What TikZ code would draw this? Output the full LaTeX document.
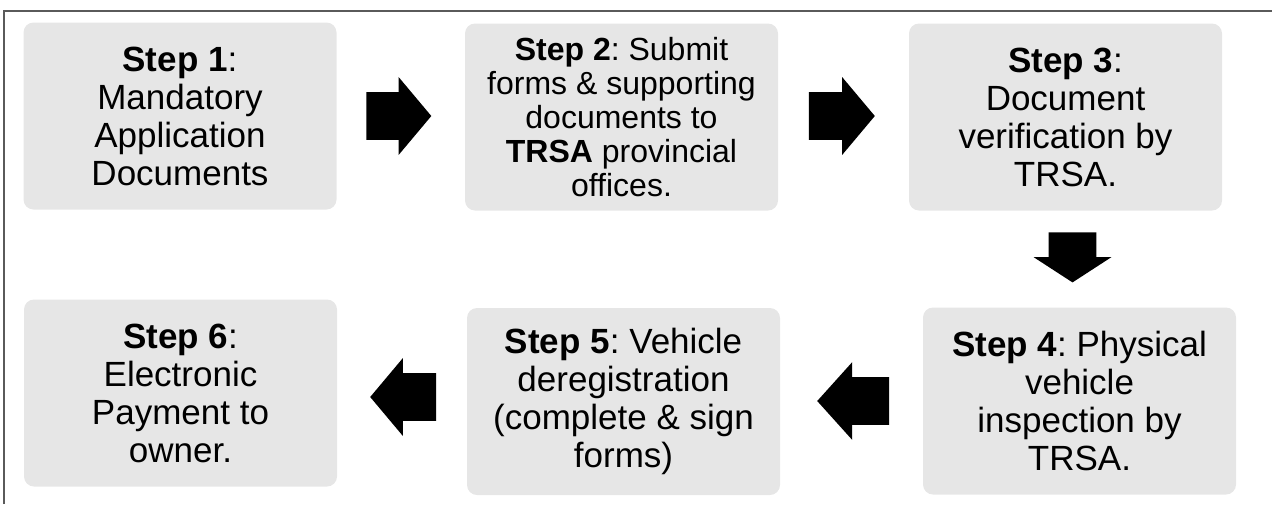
\documentclass[tikz,border=0pt]{standalone}
\usepackage{fontspec}
\setmainfont{Liberation Sans}
\usepackage{tikz}
\usetikzlibrary{shapes.arrows,calc}
\definecolor{boxgray}{RGB}{230,230,230}
\definecolor{framegray}{RGB}{90,90,90}
\frenchspacing
\tikzset{
  stepbox/.style={rectangle, rounded corners=5pt, fill=boxgray, minimum width=156.5pt, minimum height=93.5pt, inner sep=0pt, align=center, font=\fontsize{17.5}{19}\selectfont},
  flowarrow/.style={single arrow, fill=black, inner sep=0pt, text height=11.75pt, text depth=11.75pt, single arrow head extend=7.5pt, anchor=tail}
}

\begin{document}
\begin{tikzpicture}[x=0.5pt, y=-0.5pt]
        \useasboundingbox (0,0) rectangle (1272,504);
        \draw[framegray, line width=0.75pt] (4,504) -- (4,11) -- (1272,11);

        \node[stepbox] (S1) at (180,116) {\textbf{Step 1}:\\Mandatory\\Application\\Documents};
        \node[stepbox, font=\fontsize{16}{17}\selectfont] (S2) at (621.5,117) {\textbf{Step 2}: Submit\\forms \& supporting\\documents to\\\textbf{TRSA} provincial\\offices.};
        \node[stepbox] (S3) at (1065.5,117) {\textbf{Step 3}:\\Document\\verification by\\TRSA.};
        \node[stepbox] (S4) at (1079.5,401) {\textbf{Step 4}: Physical\\vehicle\\inspection by\\TRSA.};
        \node[stepbox] (S5) at (623.5,401.5) {\textbf{Step 5}: Vehicle\\deregistration\\(complete \& sign\\forms)};
        \node[stepbox] (S6) at (180.5,393) {\textbf{Step 6}:\\Electronic\\Payment to\\owner.};

        \node[flowarrow, minimum height=32.5pt, single arrow tip angle=100] (A12) at ($(S1.east)+(29,0)$) {};
        \node[flowarrow, minimum height=33pt, single arrow tip angle=100] (A23) at ($(S2.east)+(30,-1)$) {};
        \node[flowarrow, text width=23.5pt, text height=0pt, text depth=0pt, minimum height=25pt, single arrow tip angle=114, shape border rotate=270] (A34) at ($(S3.south)!0.5!(S4.north)+(0,-27)$) {};
        \node[flowarrow, minimum height=36pt, single arrow tip angle=96, shape border rotate=180] (A45) at ($(S4.west)+(-33,0)$) {};
        \node[flowarrow, minimum height=33pt, single arrow tip angle=100, shape border rotate=180] (A56) at ($(S5.west)+(-30,-4.5)$) {};
\end{tikzpicture}
\end{document}
